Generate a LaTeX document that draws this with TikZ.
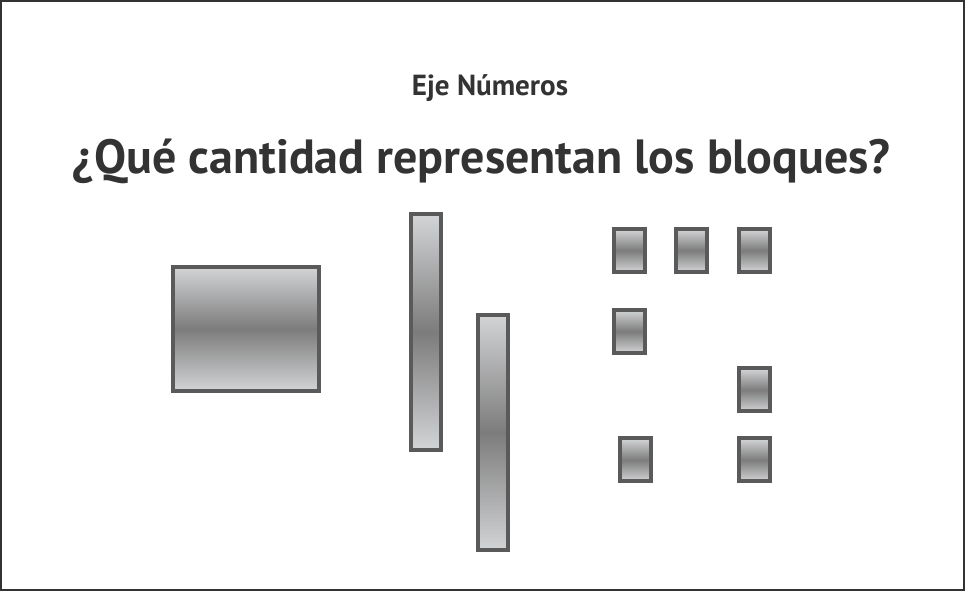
\documentclass[tikz,border=0pt]{standalone}
\usepackage{fontspec}
\setmainfont{PT Sans}
\definecolor{cInk}{HTML}{333333}
\definecolor{cEdge}{HTML}{5A5A5A}
\definecolor{cLight}{HTML}{D3D4D6}
\definecolor{cDark}{HTML}{7C7C7C}
\definecolor{cFrame}{HTML}{333333}

\begin{document}
\begin{tikzpicture}[
  x=0.75pt, y=-0.75pt,
  blk/.style={draw=cEdge, line width=3pt, inner sep=0pt,
              top color=cLight, bottom color=cLight, middle color=cDark},
  hundred/.style={blk, minimum width=109.5pt, minimum height=93pt},
  ten/.style={blk, minimum width=22.5pt, minimum height=176.5pt},
  unit/.style={blk, minimum width=23.25pt, minimum height=32.25pt},
  ttl/.style={font=\bfseries\fontsize{#1}{#1}\selectfont, text=cInk, anchor=base, inner sep=0pt},
]
\useasboundingbox (0,0) rectangle (965,591);
\draw[draw=cFrame, line width=1.5pt] (1,1) rectangle (964,590);

% ---------------- titles ----------------
\node[ttl=21.8pt] (axis) at (490,96) {Eje Números};
\node[ttl=36pt] (question) at (481.5,174) {¿Qué cantidad representan los bloques?};

% ---------------- hundreds block ----------------
\node[hundred] (h1) at (246,329) {};

% ---------------- tens rods ----------------
\node[ten] (t1) at (426,332) {};
\node[ten] (t2) at (493,432.5) {};

% ---------------- units ----------------
\node[unit] (u1) at (629.5,250.5) {};
\node[unit] (u2) at (691.5,250.5) {};
\node[unit] (u3) at (754,250.5) {};
\node[unit] (u4) at (629.5,331.5) {};
\node[unit] (u5) at (754,390) {};
\node[unit] (u6) at (635.5,460) {};
\node[unit] (u7) at (754,460) {};

\end{tikzpicture}
\end{document}
